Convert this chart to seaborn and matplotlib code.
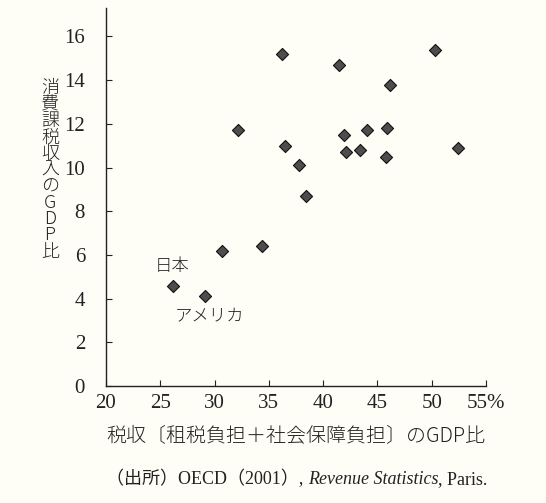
import matplotlib
matplotlib.use('Agg')
import matplotlib.pyplot as plt
import pandas as pd
import seaborn as sns

# tax revenue / GDP (%) and consumption tax revenue / GDP (%)
tax_gdp = [36.2, 41.5, 50.3, 46.2, 32.2, 36.5, 41.9, 44.0, 45.9, 42.1,
           43.4, 45.8, 52.4, 37.8, 38.4, 34.4, 30.7, 26.2, 29.1]
cons_gdp = [15.2, 14.7, 15.4, 13.8, 11.7, 11.0, 11.5, 11.7, 11.8, 10.7,
            10.8, 10.5, 10.9, 10.1, 8.7, 6.4, 6.2, 4.6, 4.1]
xticks = [20, 25, 30, 35, 40, 45, 50, 55]
xtick_labels = ['20', '25', '30', '35', '40', '45', '50', '55%']
yticks = [0, 2, 4, 6, 8, 10, 12, 14, 16]

df = pd.DataFrame({'tax': tax_gdp, 'cons': cons_gdp})

bg = '#fefef6'
ink = '#222222'
sns.set_style('ticks')
plt.rcParams['font.family'] = ['Liberation Serif', 'Noto Sans CJK JP', 'DejaVu Sans']
jp = ['Noto Sans CJK JP', 'DejaVu Sans']

fig = plt.figure(figsize=(5.46, 5.03), dpi=100, facecolor=bg)
ax = fig.add_axes([0.194, 0.2326, 0.696, 0.7514], facecolor=bg)

sns.scatterplot(data=df, x='tax', y='cons', marker='D', s=38,
                color='#4d4d4d', edgecolor='#111111', linewidth=0.8, ax=ax)

ax.set_xlim(20, 55)
ax.set_ylim(0, 17.3)
ax.set_xticks(xticks)
ax.set_xticklabels(xtick_labels)
ax.set_yticks(yticks)
ax.tick_params(direction='in', length=4, width=0.8, labelsize=15,
               colors=ink)
ax.tick_params(axis='x', pad=6)
ax.tick_params(axis='y', pad=15)
sns.despine(ax=ax)
for sp in ['left', 'bottom']:
    ax.spines[sp].set_linewidth(1.0)
    ax.spines[sp].set_color(ink)
ax.set_xlabel('')
ax.set_ylabel('')

ax.text(26.1, 5.5, '日本', family=jp, fontsize=12.5, color=ink,
        ha='center', va='center', fontweight='light')
ax.text(29.5, 3.25, 'アメリカ', family=jp, fontsize=12.5, color=ink,
        ha='center', va='center', fontweight='light')

fig.text(50 / 546, 1 - 170 / 503, '\n'.join('消費課税収入のGDP比'),
         family=jp, fontsize=13, color=ink, ha='center', va='center',
         linespacing=0.88, fontweight='light')
fig.text(296 / 546, 1 - 437 / 503, '税収〔租税負担＋社会保障負担〕のGDP比',
         family=jp, fontsize=14.4, color=ink, ha='center', va='center',
         fontweight='light')

# source line, built from pieces so the title part can be italic
t1 = ax.text(106 / 546, 1 - 484 / 503, '（出所）OECD（2001）, ',
             transform=fig.transFigure, fontsize=13, color=ink,
             ha='left', va='baseline')
t2 = ax.annotate('Revenue Statistics', xy=(1, 0), xycoords=t1,
                 fontsize=13, color=ink, style='italic', va='bottom',
                 annotation_clip=False)
ax.annotate(', Paris.', xy=(1, 0), xycoords=t2,
            fontsize=13, color=ink, va='bottom', annotation_clip=False)

fig.savefig('out.png', dpi=100, facecolor=bg)
